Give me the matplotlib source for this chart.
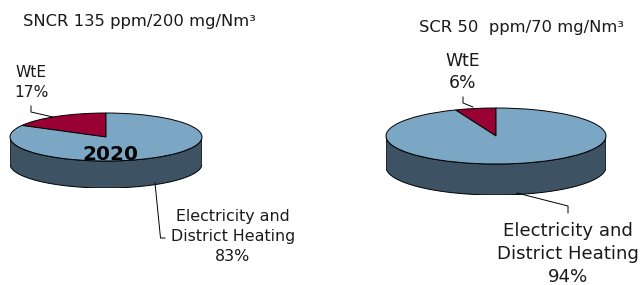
import numpy as np
import matplotlib
matplotlib.use("Agg")
import matplotlib.pyplot as plt
from matplotlib.patches import Polygon

# ---- data ----
categories = ["WtE", "Electricity and\nDistrict Heating"]
left_values = [17, 83]
right_values = [6, 94]
left_title = "SNCR 135 ppm/200 mg/Nm³"
right_title = "SCR 50  ppm/70 mg/Nm³"
left_center_label = "2020"

top_colors = ["#990033", "#7BA7C4"]
side_colors = ["#5c001f", "#3D5263"]

W, H = 643, 285
fig = plt.figure(figsize=(W / 100, H / 100), dpi=100)
fig.patch.set_facecolor("white")


def pie3d(cx, cy, rx, ry, depth, values):
    ax = fig.add_axes([(cx - rx) / W, (H - (cy + ry + depth)) / H,
                       2 * rx / W, (2 * ry + depth) / H])
    d = depth / ry
    # side walls
    total = float(sum(values))
    start = 90.0
    for v, sc in zip(values, side_colors):
        a0, a1 = start, start + 360.0 * v / total
        start = a1
        # visible front portion: angles in [180, 360] (mod 360)
        for off in (0, 360, -360):
            lo, hi = max(a0 + off, 180), min(a1 + off, 360)
            if hi > lo:
                t = np.radians(np.linspace(lo, hi, 200))
                xs = np.cos(t)
                ys = np.sin(t)
                pts = np.concatenate([np.column_stack([xs, ys]),
                                      np.column_stack([xs[::-1], ys[::-1] - d])])
                ax.add_patch(Polygon(pts, closed=True, facecolor=sc,
                                     edgecolor="black", linewidth=0.7, zorder=1))
    wedges, _ = ax.pie(values, colors=top_colors, startangle=90, counterclock=True,
                       wedgeprops=dict(edgecolor="black", linewidth=0.7))
    for w in wedges:
        w.set_zorder(2)
    ax.set_aspect("auto")
    ax.set_xlim(-1, 1)
    ax.set_ylim(-1 - d, 1)
    ax.set_axis_off()
    return ax


pie3d(106, 137, 96, 24, 27, left_values)
pie3d(496, 136, 110, 28, 31, right_values)

ov = fig.add_axes([0, 0, 1, 1])
ov.set_xlim(0, W)
ov.set_ylim(H, 0)
ov.set_axis_off()
ov.patch.set_alpha(0)

txt = dict(color="#1a1a1a", family="DejaVu Sans")
# titles
ov.text(23, 26, left_title, fontsize=11.8, ha="left", va="baseline", **txt)
ov.text(419, 32, right_title, fontsize=11.8, ha="left", va="baseline", **txt)

# left labels
ov.text(31, 77, categories[0], fontsize=11.2, ha="center", va="baseline", **txt)
ov.text(31, 97, f"{left_values[0]}%", fontsize=11.2, ha="center", va="baseline", **txt)
l1, l2 = categories[1].split("\n")
ov.text(233, 221, l1, fontsize=11.4, ha="center", va="baseline", **txt)
ov.text(233, 241, l2, fontsize=11.4, ha="center", va="baseline", **txt)
ov.text(233, 261, f"{left_values[1]}%", fontsize=11.4, ha="center", va="baseline", **txt)
ov.text(110, 160, left_center_label, fontsize=14.5, fontweight="bold",
        ha="center", va="baseline", color="black")

# right labels
ov.text(463, 66, categories[0], fontsize=12.4, ha="center", va="baseline", **txt)
ov.text(463, 88, f"{right_values[0]}%", fontsize=12.4, ha="center", va="baseline", **txt)
ov.text(568, 236, l1, fontsize=13.1, ha="center", va="baseline", **txt)
ov.text(568, 259, l2, fontsize=13.1, ha="center", va="baseline", **txt)
ov.text(568, 281.5, f"{right_values[1]}%", fontsize=13.1, ha="center", va="baseline", **txt)

# leader lines
lk = dict(color="black", linewidth=0.7)
ov.plot([31, 31, 53], [106, 112, 117], **lk)
ov.plot([155, 160.5, 165], [183, 238, 238], **lk)
ov.plot([463, 463, 473], [97, 103, 107], **lk)
ov.plot([517, 568, 568], [193, 206, 213], **lk)

fig.savefig("out.png", dpi=100, facecolor="white")
